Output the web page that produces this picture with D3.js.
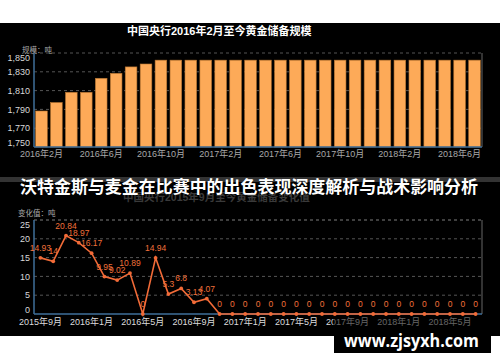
<!DOCTYPE html>
<html><head><meta charset="utf-8">
<script src="https://cdn.jsdelivr.net/npm/d3@7/dist/d3.min.js"></script>
<style>
html,body{margin:0;padding:0;background:#fff;}
svg{display:block;}
text{font-family:"Liberation Sans",Arial,"Noto Sans CJK SC",sans-serif;}
</style></head>
<body>
<svg id="c" width="500" height="362"></svg>
<script>
// ---- data ----
const topTitle = "中国央行2016年2月至今黄金储备规模";
const topUnit = "规模：吨";
const topMonths = ["2016年2月","2016年3月","2016年4月","2016年5月","2016年6月","2016年7月","2016年8月","2016年9月","2016年10月","2016年11月","2016年12月","2017年1月","2017年2月","2017年3月","2017年4月","2017年5月","2017年6月","2017年7月","2017年8月","2017年9月","2017年10月","2017年11月","2017年12月","2018年1月","2018年2月","2018年3月","2018年4月","2018年5月","2018年6月","2018年7月"];
const topValues = [1788.3,1797.3,1808.2,1808.2,1823.1,1828.4,1835.2,1838.3,1842.4,1842.4,1842.4,1842.4,1842.4,1842.4,1842.4,1842.4,1842.4,1842.4,1842.4,1842.4,1842.4,1842.4,1842.4,1842.4,1842.4,1842.4,1842.4,1842.4,1842.4,1842.4];
const topTicks = [1750,1770,1790,1810,1830,1850];
const topXLabels = ["2016年2月","2016年6月","2016年10月","2017年2月","2017年6月","2017年10月","2018年2月","2018年6月"];

const botTitle = "中国央行2015年9月至今黄金储备变化值";
const botUnit = "变化值：吨";
const botMonths = ["2015年9月","2015年10月","2015年11月","2015年12月","2016年1月","2016年2月","2016年3月","2016年4月","2016年5月","2016年6月","2016年7月","2016年8月","2016年9月","2016年10月","2016年11月","2016年12月","2017年1月","2017年2月","2017年3月","2017年4月","2017年5月","2017年6月","2017年7月","2017年8月","2017年9月","2017年10月","2017年11月","2017年12月","2018年1月","2018年2月","2018年3月","2018年4月","2018年5月","2018年6月","2018年7月"];
const botValues = [14.93,14,20.84,18.97,16.17,9.95,9.02,10.89,0,14.94,5.3,6.8,3.13,4.07,0,0,0,0,0,0,0,0,0,0,0,0,0,0,0,0,0,0,0,0,0];
const botTicks = [0,5,10,15,20,25];
const botXLabels = ["2015年9月","2016年1月","2016年5月","2016年9月","2017年1月","2017年5月","2017年9月","2018年1月","2018年5月"];

const headline = "沃特金斯与麦金在比赛中的出色表现深度解析与战术影响分析";
const watermark = "www.zjsyxh.com";

// ---- drawing ----
const svg = d3.select("#c");
svg.append("rect").attr("x",0).attr("y",23).attr("width",500).attr("height",313).attr("fill","#000");

const L = 34, R = 482;
const axisBlue = "#3f6f9a";

function frame(y, yTicks, yTop, yBot){
  // grid
  svg.append("g").selectAll("line").data(yTicks.slice(1)).join("line")
    .attr("x1",L).attr("x2",R).attr("y1",d=>y(d)).attr("y2",d=>y(d))
    .attr("stroke","#555").attr("stroke-dasharray","3,3").attr("stroke-width",1);
  svg.append("line").attr("x1",R).attr("x2",R).attr("y1",yTop).attr("y2",yBot).attr("stroke","#666");
}
function yLabels(y, ticks, fmt){
  const n = ticks.length;
  svg.append("g").selectAll("text").data(ticks).join("text")
    .attr("x",L-4).attr("y",(d,i)=>y(d) + (i===0?-4:(i===n-1?5:0)))
    .attr("dy","0.35em").attr("text-anchor","end")
    .attr("font-size",9).attr("fill","#d8d8d8").text(fmt);
}

// top chart
const x1 = d3.scaleBand().domain(topMonths).range([L,R]).paddingInner(0.22).paddingOuter(0.11);
const y1 = d3.scaleLinear().domain([1750,1850]).range([147,53]);
frame(y1, topTicks, 53, 147);
svg.append("g").selectAll("rect").data(topMonths).join("rect")
  .attr("x",d=>x1(d)).attr("width",x1.bandwidth())
  .attr("y",(d,i)=>y1(topValues[i])).attr("height",(d,i)=>y1(1750)-y1(topValues[i]))
  .attr("fill","#fdaa58").attr("stroke","#b5722f").attr("stroke-width",0.6);
svg.append("line").attr("x1",L).attr("x2",L).attr("y1",53).attr("y2",147).attr("stroke",axisBlue).attr("stroke-width",1.5);
svg.append("line").attr("x1",L).attr("x2",R).attr("y1",147).attr("y2",147).attr("stroke",axisBlue).attr("stroke-width",1.5);
yLabels(y1, topTicks, d3.format(","));
svg.append("g").selectAll("text").data(topXLabels).join("text")
  .attr("x",d=>x1(d)+x1.bandwidth()/2).attr("y",157).attr("text-anchor","middle")
  .attr("font-size",9).attr("fill","#a8a8a8").text(d=>d);
svg.append("text").attr("x",127).attr("y",35).attr("font-size",11).attr("font-weight","bold").attr("fill","#fff").text(topTitle);
svg.append("text").attr("x",22).attr("y",53).attr("font-size",7.5).attr("fill","#aaa").text(topUnit);

// bottom chart
const x2 = d3.scalePoint().domain(botMonths).range([L,R]).padding(0.5);
const y2 = d3.scaleLinear().domain([0,25]).range([314,220]);
svg.append("line").attr("x1",L).attr("x2",R).attr("y1",220).attr("y2",220).attr("stroke","#555").attr("stroke-dasharray","3,3");
frame(y2, botTicks, 220, 314);
svg.append("line").attr("x1",L).attr("x2",L).attr("y1",220).attr("y2",314).attr("stroke",axisBlue).attr("stroke-width",1.5);
svg.append("line").attr("x1",L).attr("x2",R).attr("y1",314).attr("y2",314).attr("stroke",axisBlue).attr("stroke-width",1.5);
const lineColor = "#f26b38";
svg.append("path").datum(botMonths)
  .attr("d", d3.line().x(d=>x2(d)).y((d,i)=>y2(botValues[i])))
  .attr("fill","none").attr("stroke",lineColor).attr("stroke-width",1.6);
svg.append("g").selectAll("circle").data(botMonths).join("circle")
  .attr("cx",d=>x2(d)).attr("cy",(d,i)=>y2(botValues[i])).attr("r",1.9).attr("fill",lineColor);
svg.append("g").selectAll("text").data(botMonths).join("text")
  .attr("x",d=>x2(d)).attr("y",(d,i)=>y2(botValues[i])-7).attr("text-anchor","middle")
  .attr("font-size",8.5).attr("fill","#f0703a").text((d,i)=>String(botValues[i]));
yLabels(y2, botTicks, d=>String(d));
svg.append("g").selectAll("text").data(botXLabels).join("text")
  .attr("x",d=>x2(d)).attr("y",325).attr("text-anchor","middle")
  .attr("font-size",9).attr("fill","#dcdcdc").text(d=>d);
svg.append("text").attr("x",18).attr("y",216).attr("font-size",7.5).attr("fill","#aaa").text(botUnit);
svg.append("text").attr("x",123).attr("y",201).attr("font-size",10.5).attr("font-weight","bold").attr("fill","#3a3a3a").text(botTitle);

// headline banner
svg.append("rect").attr("x",0).attr("y",177).attr("width",500).attr("height",5).attr("fill","#333");
svg.append("text").attr("x",249).attr("y",193).attr("text-anchor","middle")
  .attr("font-size",17).attr("font-weight","bold").attr("fill","#fff")
  .attr("textLength",458).attr("lengthAdjust","spacingAndGlyphs")
  .style("font-family","'Noto Sans CJK SC',sans-serif").text(headline);

// watermark
svg.append("rect").attr("x",333).attr("y",316).attr("width",158).attr("height",16).attr("fill","#000").attr("opacity",0.55);
svg.append("rect").attr("x",334).attr("y",332).attr("width",157).attr("height",21).attr("fill","#000");
svg.append("text").attr("x",344).attr("y",347).attr("font-size",17).attr("font-weight","bold").attr("fill","#fff")
  .attr("textLength",135).attr("lengthAdjust","spacingAndGlyphs")
  .style("font-family","'Open Sans',sans-serif").text(watermark);
</script>
</body></html>
